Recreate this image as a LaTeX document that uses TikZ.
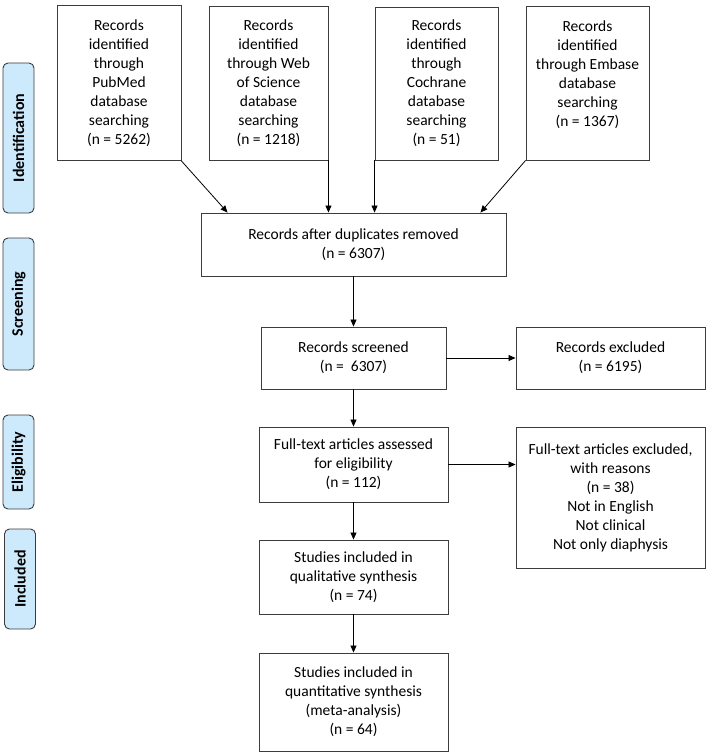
\documentclass[tikz,border=0pt]{standalone}
\usepackage{fontspec}
\setmainfont{Carlito}
\usetikzlibrary{arrows.meta}
\definecolor{phaseblue}{RGB}{205,233,252}
\definecolor{boxline}{RGB}{60,60,60}
\tikzset{
	box/.style={draw=boxline, line width=0.9pt, align=center, inner sep=2pt,
		font=\fontsize{15.5}{19}\selectfont},
	phase/.style={draw=boxline, line width=0.9pt, fill=phaseblue, rounded corners=5pt,
		rotate=90, minimum height=31pt, inner sep=0pt,
		font=\fontsize{16}{18}\selectfont\bfseries},
	arr/.style={-{Triangle[length=7pt,width=6pt]}, line width=0.8pt}
}

\begin{document}
\begin{tikzpicture}[x=1pt, y=-1pt]
		%%%%% START %%%%%
		\useasboundingbox (0, 0) rectangle (708, 754);
		
		% phases
		\node[phase, minimum width=150pt] (identification) at (18.5, 138) {Identification};
		\node[phase, minimum width=132pt] (screening) at (18.5, 304) {Screening};
		\node[phase, minimum width=94pt] (eligibility) at (18.5, 462) {Eligibility};
		\node[phase, minimum width=100pt] (included) at (20, 579) {Included};
		
		% databases
		\node[box, minimum width=124pt, minimum height=155pt] (pubmed) at (119, 83)
			{Records\\identified\\through\\PubMed\\database\\searching\\(n = 5262)};
		\node[box, minimum width=119pt, minimum height=154pt] (wos) at (268.5, 83)
			{Records\\identified\\through Web\\of Science\\database\\searching\\(n = 1218)};
		\node[box, minimum width=123pt, minimum height=153pt] (cochrane) at (436.5, 83.5)
			{Records\\identified\\through\\Cochrane\\database\\searching\\(n = 51)};
		\node[box, minimum width=123pt, minimum height=154pt] (embase) at (587.5, 83)
			{Records\\identified\\through Embase\\database\\searching\\(n = 1367)\\ \mbox{}};
		
		\node[box, minimum width=305pt, minimum height=63pt] (dup) at (353.5, 244.5)
			{Records after duplicates removed\\(n = 6307)};
		
		% screening
		\node[box, minimum width=185pt, minimum height=62pt] (screened) at (353.5, 358)
			{Records screened\\(n =~~6307)};
		\node[box, minimum width=189pt, minimum height=62pt] (excluded) at (610.5, 358)
			{Records excluded\\(n = 6195)};
		
		% eligibility
		\node[box, minimum width=189pt, minimum height=75pt] (fulltext) at (353.5, 464.5)
			{Full-text articles assessed\\for eligibility\\(n = 112)};
		\node[box, minimum width=189pt, minimum height=141pt] (ftexcluded) at (610.5, 497.5)
			{Full-text articles excluded,\\with reasons\\(n = 38)\\Not in English\\Not clinical\\Not only diaphysis};
		
		% included
		\node[box, minimum width=189pt, minimum height=74pt] (qualitative) at (353.5, 577)
			{Studies included in\\qualitative synthesis\\(n = 74)};
		\node[box, minimum width=189pt, minimum height=98pt] (quantitative) at (353.5, 702)
			{Studies included in\\quantitative synthesis\\(meta-analysis)\\(n = 64)};
		
		% arrows
		\draw[arr] (pubmed.south east) -- ([xshift=27pt]dup.north west);
		\draw[arr] (wos.south east) -- (wos.south east |- dup.north);
		\draw[arr] (cochrane.south west) -- (cochrane.south west |- dup.north);
		\draw[arr] (embase.south west) -- ([xshift=-26pt]dup.north east);
		\draw[arr] (dup) -- (screened);
		\draw[arr] (screened) -- (excluded);
		\draw[arr] (screened) -- (fulltext);
		\draw[arr] (fulltext.east) -- (fulltext.east -| ftexcluded.west);
		\draw[arr] (fulltext) -- (qualitative);
		\draw[arr] (qualitative) -- (quantitative);
		
		%%%%% END %%%%%
	\end{tikzpicture}
\end{document}
